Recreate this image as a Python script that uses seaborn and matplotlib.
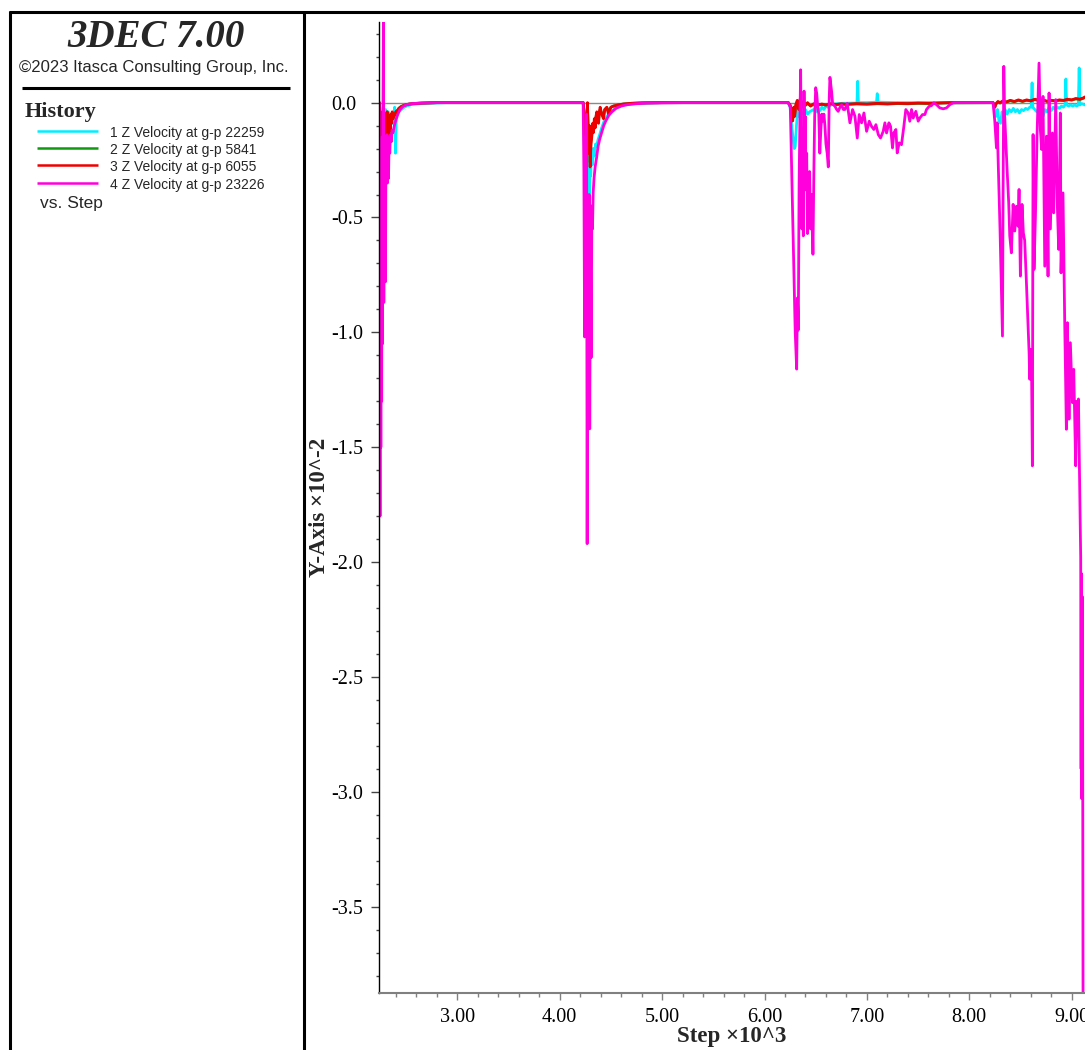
import numpy as np
import pandas as pd
import matplotlib
matplotlib.use("Agg")
import matplotlib.pyplot as plt
from matplotlib.lines import Line2D
from matplotlib.ticker import MultipleLocator, FuncFormatter
import seaborn as sns

# ---------------- data (Step x10^3, Z velocity x10^-2) ----------------
series_labels = ["1 Z Velocity at g-p 22259", "2 Z Velocity at g-p 5841",
                 "3 Z Velocity at g-p 6055", "4 Z Velocity at g-p 23226"]
series_colors = ["#00eeff", "#119911", "#ee0000", "#ff00dd"]

x_ticks = [3.0, 4.0, 5.0, 6.0, 7.0, 8.0, 9.0]
y_ticks = [-3.5, -3.0, -2.5, -2.0, -1.5, -1.0, -0.5, 0.0]

cyan_points = [
    (2.238, 0.0), (2.243, -0.25), (2.248, -0.85), (2.254, -0.20), (2.260, -0.55), (2.266, -0.12),
    (2.272, -0.35), (2.279, -0.08), (2.286, -0.20), (2.293, -0.05), (2.300, -0.03), (2.306, -0.19),
    (2.312, -0.06), (2.318, -0.16), (2.325, -0.04), (2.332, -0.12), (2.340, -0.07), (2.348, -0.11),
    (2.356, -0.06), (2.364, -0.09), (2.372, -0.05), (2.380, -0.08), (2.388, -0.02), (2.396, -0.22),
    (2.404, -0.06), (2.412, -0.05), (2.425, -0.04), (2.44, -0.035), (2.46, -0.028), (2.48, -0.02),
    (2.51, -0.014), (2.55, -0.009), (2.60, -0.006), (2.67, -0.003), (2.75, -0.002), (2.90, 0.0),
    (4.229, 0.0), (4.236, -0.05), (4.243, -0.25), (4.250, -0.10), (4.258, -0.40), (4.265, -0.15),
    (4.275, -0.35), (4.282, -0.20), (4.288, -0.64), (4.295, -0.25), (4.302, -0.32), (4.310, -0.20),
    (4.320, -0.27), (4.330, -0.20), (4.340, -0.23), (4.350, -0.18), (4.360, -0.19), (4.375, -0.16),
    (4.390, -0.14), (4.410, -0.11), (4.430, -0.085), (4.460, -0.06), (4.500, -0.04), (4.550, -0.022),
    (4.620, -0.011), (4.720, -0.005), (4.850, -0.002), (5.000, 0.0),
    (6.232, 0.0), (6.250, -0.02), (6.270, -0.12), (6.290, -0.20), (6.300, -0.19), (6.312, -0.10),
    (6.325, -0.03), (6.340, -0.06), (6.360, -0.04), (6.380, -0.05), (6.400, -0.03), (6.420, -0.05),
    (6.440, -0.04), (6.460, -0.035), (6.480, -0.03), (6.500, -0.04), (6.520, -0.02), (6.540, -0.035),
    (6.560, -0.02), (6.580, -0.03), (6.600, -0.015), (6.620, -0.02), (6.650, -0.01), (6.700, -0.005),
    (6.750, -0.003), (6.850, -0.002), (6.903, -0.002), (6.910, 0.093), (6.917, 0.0), (7.000, 0.0),
    (7.094, 0.002), (7.101, 0.039), (7.108, 0.002), (7.300, 0.0),
    (8.232, 0.0), (8.245, -0.03), (8.26, -0.06), (8.275, -0.03), (8.29, -0.08), (8.305, -0.09),
    (8.32, -0.04), (8.335, -0.06), (8.35, -0.03), (8.37, -0.05), (8.39, -0.03), (8.41, -0.04),
    (8.43, -0.025), (8.45, -0.04), (8.47, -0.03), (8.49, -0.045), (8.51, -0.03), (8.53, -0.035),
    (8.55, -0.025), (8.57, -0.03), (8.59, -0.02), (8.605, -0.02), (8.613, 0.086), (8.62, -0.02),
    (8.64, -0.03), (8.66, -0.04), (8.68, -0.03), (8.70, -0.05), (8.72, -0.06), (8.74, -0.03),
    (8.76, -0.04), (8.78, -0.02), (8.80, -0.035), (8.82, -0.02), (8.84, -0.03), (8.86, -0.02),
    (8.88, -0.025), (8.90, -0.015), (8.92, -0.02), (8.935, -0.01), (8.943, 0.103), (8.950, -0.01),
    (8.97, -0.015), (8.99, -0.01), (9.01, -0.015), (9.03, -0.01), (9.05, -0.015), (9.065, -0.01),
    (9.073, 0.151), (9.080, -0.01), (9.10, -0.005), (9.13, -0.01),
]

green_points = [
    (2.238, 0.0), (2.243, -0.03), (2.248, -0.09), (2.253, -0.05), (2.259, -0.14), (2.265, -0.07),
    (2.271, -0.11), (2.277, -0.06), (2.284, -0.18), (2.291, -0.09), (2.297, -0.16), (2.303, -0.06),
    (2.309, -0.13), (2.315, -0.04), (2.321, -0.27), (2.327, -0.11), (2.333, -0.15), (2.339, -0.08),
    (2.345, -0.11), (2.351, -0.06), (2.358, -0.085), (2.365, -0.045), (2.373, -0.065), (2.381, -0.05),
    (2.39, -0.05), (2.40, -0.04), (2.415, -0.033), (2.43, -0.024), (2.45, -0.017), (2.48, -0.011),
    (2.52, -0.007), (2.57, -0.004), (2.65, -0.002), (2.8, 0.0),
    (4.229, 0.0), (4.240, -0.06), (4.250, -0.14), (4.258, -0.19), (4.265, -0.09), (4.271, -0.02),
    (4.278, -0.13), (4.284, -0.21), (4.290, -0.11), (4.297, -0.26), (4.305, -0.17), (4.313, -0.14),
    (4.322, -0.10), (4.330, -0.12), (4.338, -0.08), (4.346, -0.10), (4.354, -0.065), (4.362, -0.05),
    (4.370, -0.065), (4.379, -0.08), (4.387, -0.045), (4.395, -0.03), (4.41, -0.045), (4.427, -0.06),
    (4.44, -0.03), (4.46, -0.022), (4.476, -0.04), (4.5, -0.02), (4.525, -0.015), (4.57, -0.01),
    (4.623, -0.006), (4.70, -0.003), (4.8, -0.001), (5.0, 0.0),
    (6.232, 0.0), (6.250, -0.012), (6.265, -0.035), (6.275, -0.07), (6.285, -0.025), (6.295, -0.05),
    (6.305, -0.015), (6.320, 0.005), (6.335, -0.025), (6.350, 0.012), (6.365, -0.018), (6.380, 0.0),
    (6.40, -0.012), (6.42, -0.004), (6.45, -0.014), (6.48, -0.007), (6.52, -0.011), (6.56, -0.008),
    (6.6, -0.011), (6.65, -0.006), (6.7, -0.009), (6.75, -0.007), (6.8, -0.008), (6.9, -0.006),
    (7.0, -0.007), (7.1, -0.005), (7.2, -0.006), (7.3, -0.004), (7.4, -0.005), (7.5, -0.003),
    (7.6, -0.004), (7.7, -0.002), (7.8, -0.001), (8.2, 0.0),
    (8.232, 0.0), (8.24, -0.012), (8.25, -0.018), (8.26, -0.006), (8.28, 0.003), (8.30, -0.002),
    (8.33, 0.006), (8.36, 0.002), (8.40, 0.008), (8.44, 0.004), (8.48, 0.01), (8.52, 0.005),
    (8.56, 0.01), (8.60, 0.007), (8.64, 0.013), (8.68, 0.009), (8.72, 0.01), (8.76, 0.005),
    (8.80, 0.009), (8.84, 0.007), (8.88, 0.01), (8.92, 0.009), (8.96, 0.013), (9.00, 0.011),
    (9.04, 0.016), (9.08, 0.014), (9.11, 0.018), (9.13, 0.022),
]

red_points = [
    (2.238, 0.0), (2.242, -0.02), (2.247, -0.10), (2.252, -0.04), (2.258, -0.15), (2.264, -0.06),
    (2.270, -0.12), (2.276, -0.05), (2.283, -0.20), (2.290, -0.08), (2.296, -0.18), (2.302, -0.05),
    (2.308, -0.14), (2.314, -0.04), (2.320, -0.30), (2.326, -0.10), (2.332, -0.16), (2.338, -0.07),
    (2.344, -0.12), (2.350, -0.05), (2.357, -0.09), (2.364, -0.04), (2.372, -0.07), (2.380, -0.05),
    (2.39, -0.055), (2.40, -0.04), (2.415, -0.035), (2.43, -0.025), (2.45, -0.018), (2.48, -0.012),
    (2.52, -0.007), (2.57, -0.004), (2.65, -0.002), (2.8, 0.0),
    (4.229, 0.0), (4.240, -0.05), (4.250, -0.15), (4.258, -0.20), (4.265, -0.08), (4.271, 0.0),
    (4.278, -0.12), (4.284, -0.22), (4.290, -0.10), (4.297, -0.28), (4.305, -0.18), (4.313, -0.15),
    (4.322, -0.09), (4.330, -0.13), (4.338, -0.07), (4.346, -0.11), (4.354, -0.06), (4.362, -0.04),
    (4.370, -0.07), (4.379, -0.09), (4.387, -0.04), (4.395, -0.02), (4.41, -0.05), (4.427, -0.07),
    (4.44, -0.03), (4.46, -0.02), (4.476, -0.05), (4.5, -0.02), (4.525, -0.015), (4.57, -0.01),
    (4.623, -0.006), (4.70, -0.003), (4.8, -0.001), (5.0, 0.0),
    (6.232, 0.0), (6.250, -0.01), (6.265, -0.04), (6.275, -0.08), (6.285, -0.02), (6.295, -0.06),
    (6.305, -0.01), (6.320, 0.01), (6.335, -0.03), (6.350, 0.02), (6.365, -0.02), (6.380, 0.005),
    (6.40, -0.01), (6.42, 0.0), (6.45, -0.015), (6.48, -0.005), (6.52, -0.01), (6.56, -0.006),
    (6.6, -0.01), (6.65, -0.004), (6.7, -0.008), (6.75, -0.005), (6.8, -0.007), (6.9, -0.004),
    (7.0, -0.006), (7.1, -0.003), (7.2, -0.005), (7.3, -0.003), (7.4, -0.004), (7.5, -0.002),
    (7.6, -0.003), (7.7, -0.002), (7.8, 0.0), (8.2, 0.0),
    (8.232, 0.0), (8.24, -0.01), (8.25, -0.02), (8.26, -0.005), (8.28, 0.005), (8.30, 0.0),
    (8.33, 0.008), (8.36, 0.003), (8.40, 0.01), (8.44, 0.005), (8.48, 0.012), (8.52, 0.006),
    (8.56, 0.012), (8.60, 0.008), (8.64, 0.015), (8.68, 0.01), (8.72, 0.012), (8.76, 0.006),
    (8.80, 0.01), (8.84, 0.008), (8.88, 0.012), (8.92, 0.01), (8.96, 0.015), (9.00, 0.012),
    (9.04, 0.018), (9.08, 0.015), (9.11, 0.02), (9.13, 0.025),
]

magenta_points = [
    (2.238, 0.0), (2.241, -0.6), (2.245, -1.80), (2.249, -0.3), (2.253, -1.5), (2.257, -0.2),
    (2.261, -1.3), (2.265, -0.15), (2.269, -1.05), (2.273, -0.1), (2.278, 0.35), (2.282, -0.87),
    (2.286, -0.2), (2.290, -0.6), (2.294, -0.15), (2.298, -0.78), (2.303, -0.18), (2.308, -0.28),
    (2.313, -0.14), (2.318, -0.35), (2.323, -0.15), (2.328, -0.33), (2.334, -0.16), (2.340, -0.22),
    (2.347, -0.14), (2.355, -0.17), (2.363, -0.12), (2.372, -0.13), (2.385, -0.10), (2.40, -0.075),
    (2.42, -0.05), (2.44, -0.03), (2.47, -0.016), (2.51, -0.008), (2.56, -0.004), (2.65, -0.002),
    (2.8, 0.0),
    (4.229, 0.0), (4.236, -0.3), (4.243, -1.02), (4.250, -0.15), (4.256, -0.8), (4.262, -0.05),
    (4.268, -1.92), (4.274, -0.5), (4.280, -1.3), (4.287, -0.4), (4.293, -1.42), (4.300, -0.6),
    (4.307, -1.11), (4.314, -0.45), (4.320, -0.55), (4.327, -0.39), (4.335, -0.33), (4.346, -0.28),
    (4.36, -0.24), (4.375, -0.19), (4.39, -0.16), (4.41, -0.13), (4.43, -0.10), (4.45, -0.08),
    (4.48, -0.055), (4.51, -0.04), (4.55, -0.025), (4.6, -0.015), (4.66, -0.009), (4.74, -0.005),
    (4.85, -0.002), (5.0, -0.001), (5.2, 0.0),
    (6.232, 0.0), (6.252, -0.02), (6.280, -0.60), (6.300, -1.00), (6.314, -1.16), (6.322, -0.85),
    (6.330, -0.99), (6.338, -0.35), (6.345, -0.10), (6.353, 0.143), (6.360, -0.30), (6.366, -0.55),
    (6.372, -0.15), (6.379, -0.58), (6.386, 0.05), (6.392, -0.20), (6.398, -0.06), (6.405, -0.38),
    (6.412, -0.22), (6.420, -0.57), (6.430, -0.40), (6.440, -0.30), (6.450, -0.55), (6.462, -0.40),
    (6.473, -0.66), (6.482, -0.30), (6.490, -0.06), (6.500, 0.065), (6.510, 0.04), (6.520, -0.02),
    (6.530, -0.05), (6.540, -0.22), (6.550, -0.12), (6.560, -0.05), (6.570, -0.08), (6.580, -0.05),
    (6.590, -0.10), (6.600, -0.18), (6.612, -0.22), (6.623, -0.28), (6.632, 0.02), (6.639, 0.11),
    (6.645, 0.086), (6.655, 0.05), (6.665, -0.003), (6.675, -0.01), (6.688, -0.016), (6.705, -0.03),
    (6.720, -0.038), (6.737, -0.02), (6.753, -0.01), (6.770, -0.03), (6.785, -0.03), (6.808, -0.003),
    (6.834, -0.088), (6.860, -0.03), (6.883, -0.059), (6.906, -0.154), (6.925, -0.052), (6.948, -0.088),
    (6.971, -0.045), (6.997, -0.125), (7.023, -0.081), (7.045, -0.103), (7.068, -0.117), (7.088, -0.096),
    (7.111, -0.139), (7.133, -0.154), (7.159, -0.125), (7.176, -0.088), (7.192, -0.132), (7.215, -0.088),
    (7.231, -0.103), (7.250, -0.197), (7.263, -0.132), (7.283, -0.117), (7.296, -0.219), (7.315, -0.175),
    (7.338, -0.183), (7.361, -0.103), (7.380, -0.030), (7.403, -0.045), (7.419, -0.081), (7.436, -0.030),
    (7.452, -0.067), (7.478, -0.038), (7.501, -0.081), (7.517, -0.067), (7.543, -0.052), (7.566, -0.052),
    (7.582, -0.030), (7.608, -0.016), (7.631, -0.013), (7.654, -0.001), (7.680, -0.009), (7.712, -0.023),
    (7.745, -0.027), (7.777, -0.023), (7.810, -0.009), (7.842, -0.001), (7.875, 0.0), (8.2, 0.0),
    (8.232, 0.0), (8.249, -0.081), (8.265, -0.197), (8.272, -0.088), (8.300, -0.55), (8.324, -1.016),
    (8.330, -0.40), (8.337, 0.158), (8.345, -0.05), (8.356, -0.161), (8.370, -0.30), (8.385, -0.436),
    (8.395, -0.58), (8.411, -0.654), (8.428, -0.443), (8.444, -0.559), (8.460, -0.451), (8.476, -0.538),
    (8.486, -0.378), (8.499, -0.755), (8.515, -0.443), (8.528, -0.567), (8.541, -0.60), (8.558, -0.784),
    (8.584, -1.088), (8.590, -1.204), (8.597, -1.074), (8.607, -1.103), (8.616, -1.581), (8.623, -0.139),
    (8.632, -0.726), (8.646, -0.494), (8.662, -0.139), (8.681, 0.172), (8.694, -0.117), (8.707, -0.204),
    (8.720, 0.027), (8.737, -0.712), (8.753, -0.146), (8.769, -0.755), (8.779, 0.042), (8.792, -0.55),
    (8.811, -0.132), (8.824, -0.480), (8.844, 0.013), (8.860, -0.45), (8.873, -0.639), (8.889, -0.045),
    (8.896, -0.741), (8.915, -0.393), (8.932, -0.958), (8.948, -1.422), (8.958, -0.958), (8.974, -1.378),
    (8.987, -1.045), (9.007, -1.306), (9.020, -1.161), (9.039, -1.581), (9.050, -1.30), (9.060, -1.42),
    (9.066, -1.29), (9.088, -1.98), (9.092, -2.90), (9.095, -2.05), (9.099, -3.03), (9.103, -2.15),
    (9.107, -2.70), (9.112, -4.2),
]

all_points = [cyan_points, green_points, red_points, magenta_points]

# ---------------- figure ----------------
W, H = 1085, 1050
sns.set_style("ticks")
plt.rcParams["font.family"] = ["Liberation Serif", "DejaVu Serif"]
plt.rcParams["axes.unicode_minus"] = False

fig = plt.figure(figsize=(W / 100, H / 100), dpi=100)
fig.patch.set_facecolor("white")


def fx(px):
    return px / W


def fy(py):
    return 1 - py / H


ax_left, ax_right, ax_top, ax_bottom = 379.3, 1085, 22, 993
ax = fig.add_axes([fx(ax_left), fy(ax_bottom), fx(ax_right) - fx(ax_left), fy(ax_top) - fy(ax_bottom)])
ax.set_facecolor("white")

frames = []
for lab, pts in zip(series_labels, all_points):
    arr = np.array(pts)
    frames.append(pd.DataFrame({"step": arr[:, 0], "velocity": arr[:, 1], "history": lab}))
df = pd.concat(frames, ignore_index=True)

ax.axhline(0.0, color="#8a8a8a", lw=1.0, zorder=0)
sns.lineplot(data=df, x="step", y="velocity", hue="history", hue_order=series_labels,
             palette=dict(zip(series_labels, series_colors)), sort=False, estimator=None,
             legend=False, linewidth=2.0, ax=ax)

ax.set_xlim(2.238, 9.130)
ax.set_ylim(-3.876, 0.351)

for s in ["top", "right"]:
    ax.spines[s].set_visible(False)
ax.spines["bottom"].set_color("#808080")
ax.spines["bottom"].set_linewidth(1.5)
ax.spines["left"].set_color("black")
ax.spines["left"].set_linewidth(1.0)

ax.set_xticks(x_ticks)
ax.xaxis.set_minor_locator(MultipleLocator(0.2))
ax.xaxis.set_major_formatter(FuncFormatter(lambda v, p: f"{v:.2f}"))
ax.set_yticks(y_ticks)
ax.yaxis.set_minor_locator(MultipleLocator(0.1))


def yfmt(v, p):
    s = f"{v:.1f}"
    return "0.0" if s == "-0.0" else s


ax.yaxis.set_major_formatter(FuncFormatter(yfmt))

ax.tick_params(axis="both", which="both", bottom=True, left=True, top=False, right=False)
ax.tick_params(axis="x", which="major", direction="out", length=5.3, width=1.0, color="#808080",
               labelsize=14.5, pad=5.5, labelcolor="black")
ax.tick_params(axis="x", which="minor", direction="out", length=2.9, width=1.0, color="#808080")
ax.tick_params(axis="y", which="major", direction="out", length=6.0, width=1.0, color="#444444",
               labelsize=14.5, pad=28.6, labelcolor="black")
ax.tick_params(axis="y", which="minor", direction="out", length=2.4, width=1.0, color="#444444")
for t in ax.yaxis.get_major_ticks():
    t.label1.set_horizontalalignment("left")

ax.set_xlabel("Step ×10^3", fontsize=16.5, fontweight="bold")
ax.xaxis.set_label_coords(0.5, -0.034)
ax.set_ylabel("Y-Axis ×10^-2", fontsize=16.5, fontweight="bold")
ax.yaxis.set_label_coords(-0.0694, 0.5)

# ---------------- frame / left panel ----------------
def fline(xs, ys, lw=2.2, color="black"):
    fig.add_artist(Line2D([fx(x) for x in xs], [fy(y) for y in ys], lw=lw, color=color,
                          solid_capstyle="butt"))


fline([10, 10], [11, H + 5])
fline([9, W + 5], [12, 12])
fline([304, 304], [11, H + 5])
fline([22, 290], [88, 88], lw=2.2)

fig.text(fx(156), fy(47), "3DEC 7.00", fontsize=28, fontweight="bold", fontstyle="italic",
         family=["Liberation Serif"], ha="center", va="baseline")
fig.text(fx(154), fy(72), "©2023 Itasca Consulting Group, Inc.", fontsize=12,
         family=["Liberation Sans"], ha="center", va="baseline")
fig.text(fx(25), fy(117), "History", fontsize=16, fontweight="bold",
         family=["Liberation Serif"], ha="left", va="baseline")
for i, (lab, col) in enumerate(zip(series_labels, series_colors)):
    yl = 131 + 17.2 * i
    fline([37, 98], [yl, yl], lw=1.8, color=col)
    fig.text(fx(110), fy(yl + 6), lab, fontsize=10, family=["Liberation Sans"],
             ha="left", va="baseline")
fig.text(fx(40), fy(208), "vs. Step", fontsize=12.5, family=["Liberation Sans"],
         ha="left", va="baseline")

fig.savefig("out.png", dpi=100, facecolor="white")
